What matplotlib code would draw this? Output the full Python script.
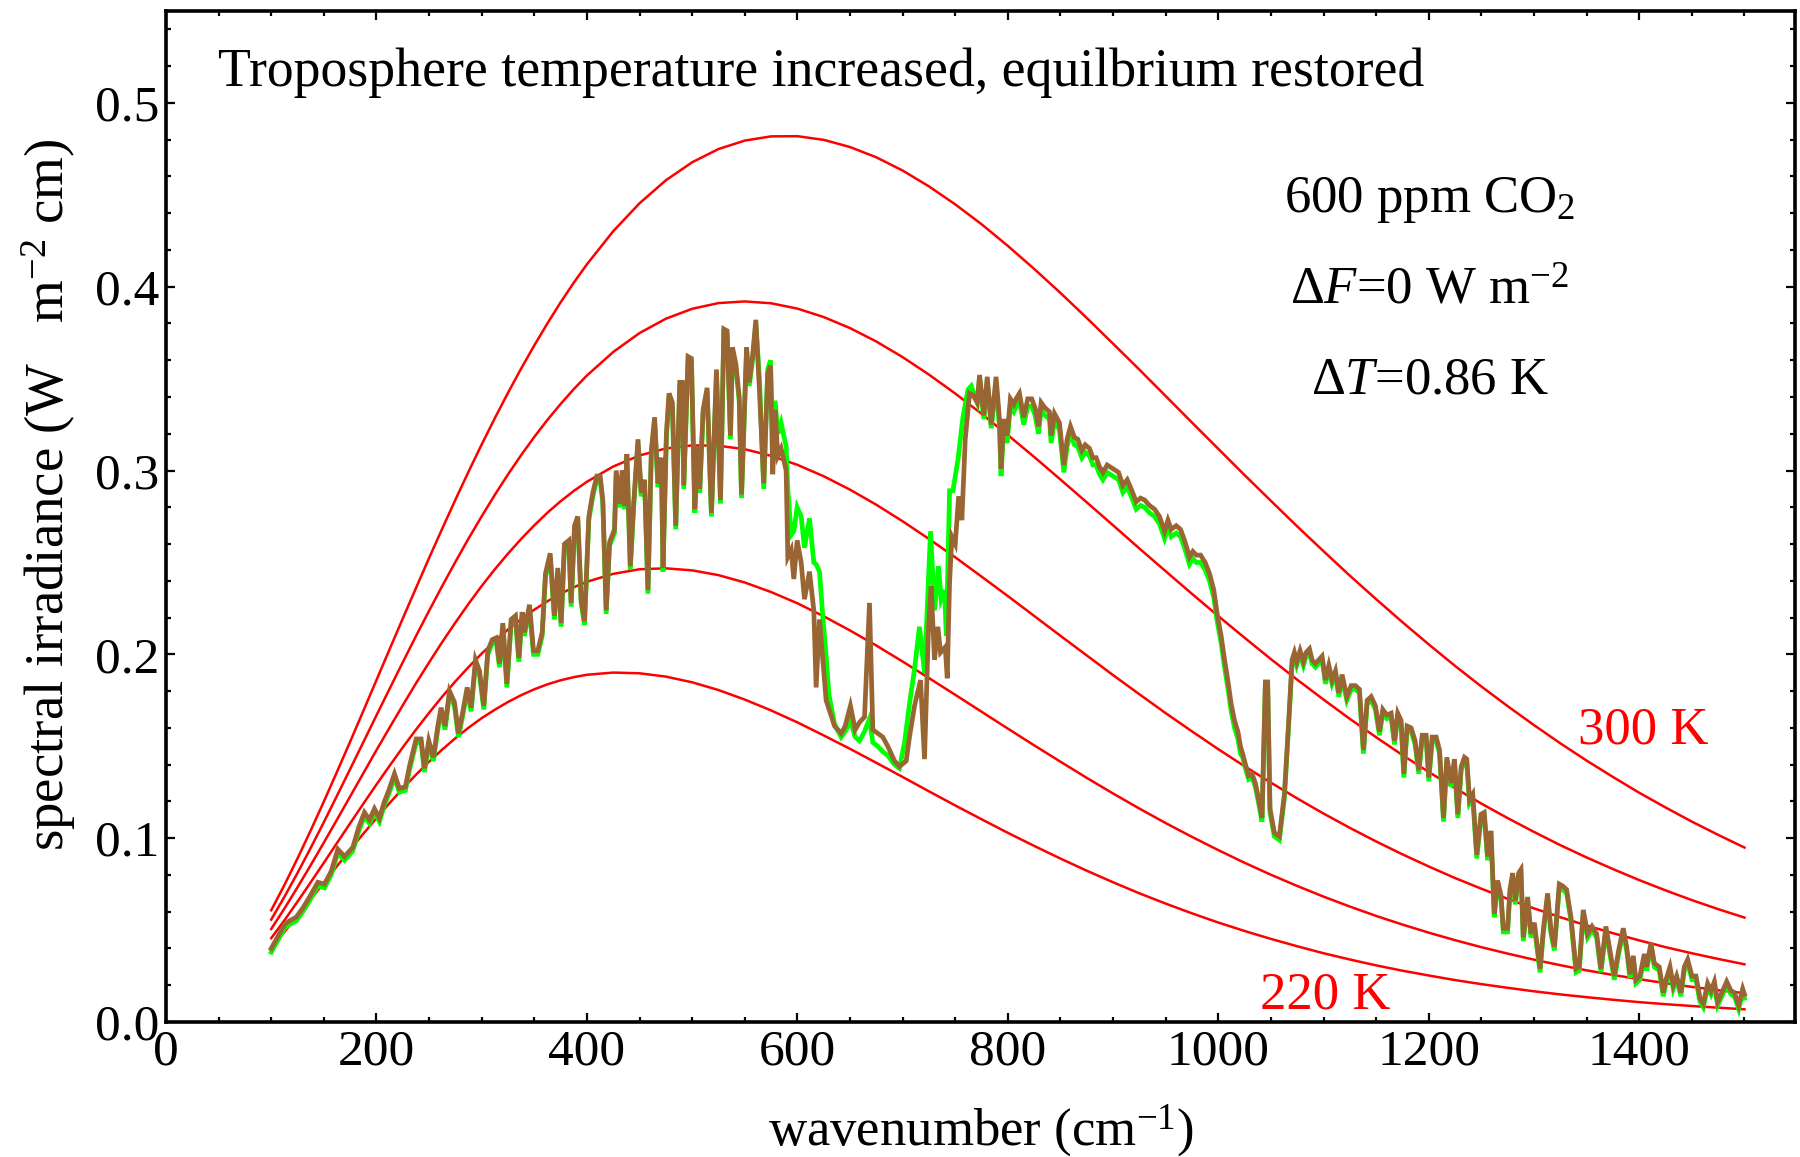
import numpy as np
import matplotlib
matplotlib.use("Agg")
import matplotlib.pyplot as plt
from matplotlib.ticker import MultipleLocator

# ---------------- data ----------------
temps = [220, 240, 260, 280, 300]
planck_wn = [100 + 12.5 * i for i in range(25)] + list(range(425, 1501, 25))
# blackbody spectral irradiance curves, units of 1e-4 W m^-2 cm
planck_220 = [405,490,578,667,758,848,937,1024,1109,1191,1270,1345,1416,1482,1544,1601,1653,1699,1741,1778,1810,1837,1859,1876,1889,
              1901,1897,1879,1848,1806,1754,1695,1630,1559,1486,1410,1333,1255,1178,1103,1029,958,889,823,760,
              700,644,591,541,495,452,412,374,340,308,279,253,228,206,186,167,150,135,121,108,97,87,78,69]
planck_240 = [456,553,655,760,866,974,1081,1187,1292,1394,1494,1590,1682,1770,1853,1931,2004,2072,2135,2192,2243,2289,2330,2365,2395,
              2438,2463,2468,2457,2431,2391,2339,2278,2207,2130,2048,1961,1871,1780,1688,1596,1505,1416,1328,1243,
              1161,1082,1007,935,866,801,740,682,628,577,530,486,445,407,372,339,309,281,256,233,211,191,173,157]
planck_260 = [506,617,733,853,976,1101,1227,1353,1479,1602,1723,1842,1956,2067,2173,2275,2372,2463,2548,2628,2702,2771,2833,2889,2939,
              3022,3082,3120,3137,3135,3116,3080,3031,2969,2896,2814,2724,2628,2528,2423,2317,2209,2101,1994,1887,
              1783,1680,1581,1484,1391,1302,1216,1134,1056,982,912,846,783,725,670,618,570,525,483,444,407,374,343,314]
planck_280 = [557,681,811,947,1087,1231,1376,1522,1668,1813,1957,2099,2237,2372,2503,2630,2751,2868,2979,3084,3183,3276,3362,3443,3517,
              3645,3748,3826,3880,3911,3920,3910,3881,3835,3775,3702,3617,3522,3419,3309,3193,3074,2951,2827,2702,
              2576,2452,2329,2208,2090,1974,1862,1754,1649,1549,1452,1360,1272,1188,1109,1034,962,895,832,772,716,663,614,568]
planck_300 = [608,745,890,1042,1199,1361,1525,1692,1860,2028,2195,2360,2524,2684,2841,2994,3142,3285,3423,3555,3681,3801,3915,4022,4122,
              4302,4454,4579,4677,4749,4795,4818,4819,4799,4760,4704,4632,4546,4448,4340,4222,4097,3966,3830,3690,
              3549,3405,3261,3118,2975,2835,2696,2561,2428,2300,2175,2054,1937,1825,1718,1615,1516,1422,1333,1247,1167,1090,1018,949]

# outgoing spectrum (brown = after, green = before), W m^-2 cm
wn_lo = [100.0, 112.6, 117.3, 123.7, 130.0, 136.4, 144.3, 150.6, 157.0, 163.3,
         169.6, 177.5, 183.2, 188.6, 193.4, 198.1, 202.8, 207.6, 211.7, 217.1,
         221.8, 227.5, 231.3, 237.7, 242.4, 245.6, 249.7, 254.1, 258.3, 261.4,
         265.2, 269.4, 274.1, 277.9, 282.1, 286.2, 290.0, 294.1, 297.9, 302.0,
         305.8, 310.0, 313.8, 316.9, 320.1, 323.9, 328.0, 332.1, 335.3, 338.4,
         340.6, 345.4, 349.2, 353.3, 357.5, 360.6, 365.1, 369.1, 372.3, 375.5,
         378.6, 382.8, 385.0, 388.2, 391.3, 394.5, 397.7, 401.8, 405.6, 409.4,
         412.6, 415.1, 418.3, 421.5, 426.2, 427.8, 431.6, 433.5, 435.8, 438.0,
         441.2, 444.4, 448.5, 451.6, 454.8, 458.0, 461.2, 464.3, 467.5, 470.7,
         472.3, 475.5, 478.0, 481.2, 484.4, 488.2, 490.7, 492.0, 496.1, 499.3,
         502.5, 505.6, 507.2, 510.4, 514.2, 518.3, 523.1, 526.9, 530.1, 533.2,
         536.4, 538.3, 541.5, 544.7, 546.9, 551.7, 554.2, 557.4]
brown_lo = [.040,.053,.055,.057,.062,.068,.076,.075,.082,.094,
            .090,.095,.106,.114,.110,.116,.111,.120,.126,.135,
            .127,.128,.139,.154,.154,.138,.153,.144,.161,.171,
            .161,.180,.174,.157,.169,.182,.171,.197,.191,.172,
            .202,.208,.209,.195,.217,.184,.219,.221,.198,.223,
            .212,.227,.202,.202,.212,.244,.255,.221,.247,.217,
            .260,.262,.228,.270,.275,.230,.218,.275,.288,.297,
            .297,.284,.224,.261,.268,.300,.282,.300,.281,.309,
            .248,.282,.317,.288,.295,.235,.311,.329,.293,.307,
            .247,.320,.342,.337,.270,.348,.348,.292,.362,.361,
            .279,.313,.290,.333,.345,.277,.355,.284,.377,.376,
            .319,.367,.358,.340,.287,.367,.348,.362]
green_lo = [.038,.051,.053,.055,.060,.066,.074,.073,.080,.092,
            .088,.093,.104,.112,.108,.114,.109,.118,.124,.133,
            .125,.126,.137,.152,.152,.136,.151,.142,.159,.169,
            .159,.178,.172,.155,.167,.180,.169,.195,.189,.170,
            .200,.206,.207,.193,.215,.182,.217,.219,.196,.221,
            .210,.225,.200,.200,.210,.242,.253,.219,.245,.215,
            .258,.260,.226,.268,.273,.228,.216,.273,.286,.295,
            .295,.282,.222,.259,.266,.298,.280,.298,.279,.307,
            .246,.280,.315,.286,.293,.233,.309,.327,.291,.305,
            .245,.318,.340,.335,.268,.346,.346,.290,.360,.359,
            .277,.311,.288,.331,.343,.275,.353,.282,.375,.374,
            .317,.365,.356,.338,.285,.365,.346,.360]

wn_mid_brown = [560.5, 563.9, 568.0, 571.8, 574.4, 576.6, 578.8, 581.4, 584.5, 589.3,
                590.9, 594.1, 596.6, 599.8, 603.6, 606.7, 611.5, 615.6, 617.8, 621.0,
                627.3, 635.3, 641.6, 645.4, 650.4, 654.9, 659.0, 663.8, 668.5, 671.7,
                676.4, 681.2, 685.9, 692.3, 697.0, 703.4, 706.5, 711.3, 717.0, 720.8,
                724.6, 727.1, 730.3, 733.5, 736.0, 740.5, 742.4, 744.6, 746.8, 750.0,
                753.2, 756.3, 759.5, 763.6, 766.8, 770.9, 773.1, 777.2, 780.4, 784.2]
brown_mid = [.382,.344,.293,.353,.357,.298,.333,.308,.312,.300,
             .253,.257,.241,.262,.250,.230,.245,.224,.182,.219,
             .175,.161,.157,.161,.172,.159,.163,.166,.228,.159,
             .157,.155,.150,.142,.139,.142,.155,.172,.186,.143,
             .215,.237,.197,.215,.201,.204,.187,.239,.264,.260,
             .286,.273,.317,.342,.341,.337,.352,.330,.351,.325]
wn_mid_green = [560.5, 563.9, 568.0, 571.8, 574.4, 576.6, 578.8, 581.4, 584.5, 589.3,
                590.9, 594.1, 596.6, 599.8, 603.6, 606.7, 611.5, 615.6, 617.8, 621.0,
                624.0, 627.3, 630.0, 635.3, 641.6, 645.4, 650.4, 654.9, 659.0, 663.8,
                668.5, 671.7, 676.4, 681.2, 685.9, 692.3, 697.0, 701.8, 706.5, 711.3,
                716.0, 720.8, 726.5, 730.3, 734.1, 736.6, 739.8, 741.5, 744.6, 747.8,
                752.6, 757.3, 762.1, 765.2, 770.9, 773.1, 777.2, 780.4, 784.2]
green_mid = [.380,.350,.290,.355,.360,.320,.338,.320,.326,.313,
             .290,.265,.267,.280,.275,.258,.274,.250,.249,.245,
             .222,.199,.178,.162,.155,.158,.164,.155,.153,.158,
             .165,.152,.150,.147,.145,.140,.138,.152,.173,.192,
             .215,.190,.267,.224,.248,.230,.235,.210,.289,.289,
             .306,.329,.344,.346,.337,.350,.328,.349,.323]

wn_hi = [788.8, 792.0, 793.5, 796.1, 799.3, 802.4, 805.6, 807.8, 811.0, 815.1,
         818.9, 822.7, 825.9, 829.1, 831.6, 835.4, 839.5, 841.1, 844.3, 849.0,
         853.2, 856.3, 859.5, 863.3, 866.5, 870.3, 873.5, 877.6, 880.8, 883.9,
         887.1, 890.3, 894.4, 899.8, 905.2, 909.3, 913.4, 917.2, 922.0, 926.1,
         929.9, 934.6, 939.4, 944.1, 948.9, 952.1, 955.2, 960.0, 964.1, 967.9,
         972.6, 975.8, 979.0, 983.1, 987.5, 991.6, 995.7, 998.9, 1002.7, 1005.9,
         1009.0, 1012.2, 1015.4, 1018.6, 1021.0, 1023.1, 1026.3, 1028.8, 1032.0, 1035.2,
         1038.3, 1041.5, 1044.7, 1046.9, 1049.1, 1053.2, 1058.0, 1062.8, 1066.9, 1070.1,
         1072.3, 1074.5, 1077.7, 1080.9, 1083.4, 1086.6, 1089.1, 1092.3, 1095.5, 1098.6,
         1101.8, 1105.0, 1108.1, 1111.3, 1114.5, 1117.6, 1122.1, 1126.2, 1130.3, 1134.1,
         1137.9, 1141.4, 1145.2, 1149.3, 1153.1, 1156.3, 1160.1, 1164.2, 1167.4, 1170.5,
         1173.7, 1176.3, 1179.4, 1183.2, 1187.0, 1190.5, 1193.7, 1197.5, 1200.0, 1203.2,
         1207.0, 1210.2, 1214.0, 1217.1, 1221.2, 1224.4, 1227.6, 1230.8, 1233.9, 1236.1,
         1238.7, 1241.8, 1245.6, 1249.6, 1252.7, 1255.9, 1259.1, 1262.2, 1265.4, 1268.6,
         1270.8, 1274.9, 1277.1, 1279.7, 1282.2, 1285.4, 1287.6, 1289.8, 1293.9, 1297.1,
         1300.3, 1305.7, 1308.8, 1312.9, 1316.1, 1319.3, 1324.0, 1327.2, 1331.0, 1335.1,
         1339.9, 1343.0, 1346.8, 1350.9, 1355.1, 1359.5, 1363.6, 1368.3, 1372.1, 1376.3,
         1380.4, 1384.8, 1388.0, 1391.1, 1394.3, 1396.8, 1400.6, 1404.8, 1407.0, 1411.1,
         1414.3, 1419.0, 1422.8, 1425.4, 1429.2, 1432.3, 1435.5, 1439.6, 1442.8, 1446.0,
         1450.1, 1453.9, 1457.7, 1460.9, 1465.0, 1468.2, 1471.4, 1474.5, 1479.3, 1483.1,
         1487.2, 1490.4, 1494.5, 1498.3, 1500.0]
brown_hi = [.351,.328,.301,.328,.319,.339,.336,.339,.342,.329,
            .339,.339,.334,.324,.337,.334,.332,.319,.331,.326,
            .303,.317,.324,.318,.317,.311,.314,.312,.307,.307,
            .302,.299,.303,.301,.299,.292,.295,.290,.283,.285,
            .284,.281,.279,.275,.267,.273,.268,.270,.268,.262,
            .253,.256,.254,.254,.250,.244,.235,.222,.210,.197,
            .186,.173,.164,.158,.150,.146,.139,.134,.135,.130,
            .121,.111,.185,.185,.116,.103,.101,.124,.164,.197,
            .201,.196,.202,.196,.201,.203,.197,.195,.197,.199,
            .186,.194,.186,.191,.179,.189,.177,.183,.183,.181,
            .148,.175,.177,.172,.158,.170,.167,.168,.153,.168,
            .164,.135,.161,.160,.153,.137,.156,.156,.133,.155,
            .155,.148,.111,.144,.130,.143,.113,.139,.144,.143,
            .121,.124,.091,.113,.114,.090,.104,.059,.077,.069,
            .051,.051,.072,.081,.066,.081,.083,.046,.068,.048,
            .054,.029,.050,.070,.050,.041,.075,.074,.072,.057,
            .029,.030,.061,.048,.052,.048,.029,.052,.039,.025,
            .039,.051,.041,.026,.036,.023,.025,.037,.030,.043,
            .032,.030,.016,.023,.030,.020,.025,.016,.030,.034,
            .025,.025,.013,.010,.021,.017,.022,.011,.017,.022,
            .017,.016,.009,.018,.015]
green_hi = [.347,.324,.297,.324,.315,.335,.332,.335,.338,.325,
            .335,.335,.330,.320,.333,.330,.328,.315,.327,.322,
            .299,.313,.320,.314,.313,.307,.310,.308,.303,.303,
            .298,.295,.299,.297,.295,.288,.291,.286,.279,.281,
            .280,.277,.275,.271,.263,.269,.264,.266,.264,.258,
            .249,.252,.250,.250,.246,.240,.231,.218,.206,.193,
            .182,.169,.160,.154,.146,.144,.137,.132,.133,.128,
            .119,.109,.183,.183,.114,.101,.099,.122,.162,.195,
            .199,.194,.200,.194,.199,.201,.195,.193,.195,.197,
            .184,.192,.184,.189,.177,.187,.175,.181,.181,.179,
            .146,.173,.175,.170,.156,.168,.165,.166,.151,.166,
            .162,.133,.159,.158,.151,.135,.154,.154,.131,.153,
            .153,.146,.109,.142,.128,.141,.111,.137,.142,.141,
            .119,.122,.089,.111,.112,.088,.102,.057,.075,.067,
            .049,.049,.070,.079,.064,.079,.081,.044,.066,.046,
            .052,.027,.048,.068,.048,.039,.073,.072,.070,.055,
            .027,.028,.059,.046,.050,.046,.027,.050,.037,.023,
            .037,.049,.039,.024,.034,.021,.023,.035,.028,.041,
            .030,.028,.014,.021,.028,.018,.023,.014,.028,.032,
            .023,.023,.011,.008,.019,.015,.020,.009,.015,.020,
            .015,.014,.007,.016,.013]

xticks = [0, 200, 400, 600, 800, 1000, 1200, 1400]
yticks = [0.0, 0.1, 0.2, 0.3, 0.4, 0.5]

title_text = "Troposphere temperature increased, equilbrium restored"
info_lines = ["600 ppm CO$_2$", "\u0394$F$=0 W m$^{-2}$", "\u0394$T$=0.86 K"]
temp_labels = ["300 K", "220 K"]

# ---------------- style ----------------
plt.rcParams['font.family'] = ['Liberation Serif', 'DejaVu Serif']
plt.rcParams['mathtext.fontset'] = 'custom'
plt.rcParams['mathtext.rm'] = 'Liberation Serif'
plt.rcParams['mathtext.it'] = 'Liberation Serif:italic'
plt.rcParams['mathtext.bf'] = 'Liberation Serif:bold'

fig = plt.figure(figsize=(18, 11.57), dpi=100)
ax = fig.add_axes([166/1800, 135/1157, 1629/1800, 1011/1157])

for curve in [planck_220, planck_240, planck_260, planck_280, planck_300]:
    ax.plot(planck_wn, np.array(curve) * 1e-4, color='#ff0000', lw=1.8, zorder=2)

ax.plot(wn_lo + wn_mid_green + wn_hi, green_lo + green_mid + green_hi,
        color='#00ff00', lw=3.4, zorder=3, solid_joinstyle='miter')
ax.plot(wn_lo + wn_mid_brown + wn_hi, brown_lo + brown_mid + brown_hi,
        color='#996633', lw=3.4, zorder=4, solid_joinstyle='miter')

ax.set_xlim(0, 1548)
ax.set_ylim(0, 0.55)
ax.set_xticks(xticks)
ax.set_xticklabels([str(t) for t in xticks])
ax.set_yticks(yticks)
ax.set_yticklabels([f"{t:.1f}" for t in yticks])
ax.xaxis.set_minor_locator(MultipleLocator(50))
ax.yaxis.set_minor_locator(MultipleLocator(0.02))
ax.tick_params(which='both', direction='in', top=True, right=True, width=1.6, labelsize=37)
ax.tick_params(which='major', length=6.5, pad=5)
ax.tick_params(which='minor', length=3.8)
for s in ax.spines.values():
    s.set_linewidth(2.6)

ax.set_xlabel("wavenumber (cm$^{-1}$)", fontsize=38)
ax.xaxis.set_label_coords(0.5, -0.079)
ax.xaxis.label.set_va('top')
ax.set_ylabel("spectral irradiance (W   m$^{-2}$ cm)", fontsize=39.5)
ax.yaxis.set_label_coords(-0.054, 0.522)

ax.text(49, 0.509, title_text, fontsize=38.7, ha='left', va='baseline')
for txt, yb in zip(info_lines, [0.4407, 0.3906, 0.3417]):
    ax.text(1201, yb, txt, fontsize=38, ha='center', va='baseline')
ax.text(1404, 0.1513, temp_labels[0], fontsize=38, color='#ff0000', ha='center', va='baseline')
ax.text(1102, 0.0076, temp_labels[1], fontsize=38, color='#ff0000', ha='center', va='baseline')

fig.savefig("out.png", dpi=100)
